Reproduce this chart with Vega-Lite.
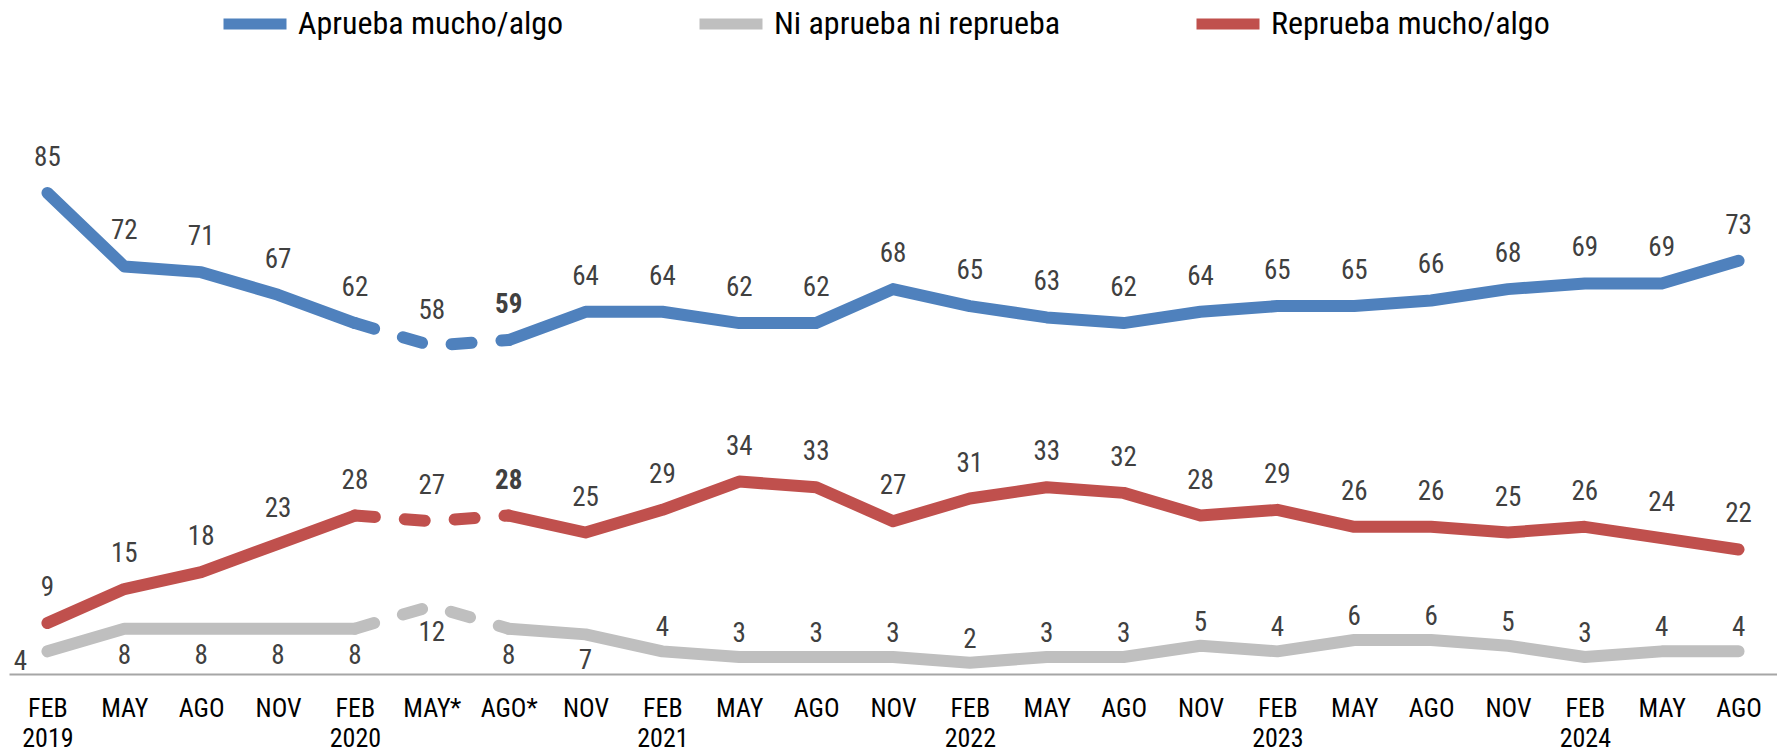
{
  "$schema": "https://vega.github.io/schema/vega-lite/v6.json",
  "autosize": {"type": "none"},
  "width": 1768,
  "height": 566,
  "padding": {"left": 9, "top": 108, "right": 0, "bottom": 77},
  "background": "white",
  "config": {
    "font": "Roboto Condensed, Liberation Sans Narrow, DejaVu Sans Condensed, Roboto, sans-serif",
    "view": {"stroke": null}
  },
  "data": {
    "values": [
      {"i": 0, "p": "FEB 2019", "Aprueba mucho/algo": 85, "Ni aprueba ni reprueba": 4, "Reprueba mucho/algo": 9},
      {"i": 1, "p": "MAY 2019", "Aprueba mucho/algo": 72, "Ni aprueba ni reprueba": 8, "Reprueba mucho/algo": 15},
      {"i": 2, "p": "AGO 2019", "Aprueba mucho/algo": 71, "Ni aprueba ni reprueba": 8, "Reprueba mucho/algo": 18},
      {"i": 3, "p": "NOV 2019", "Aprueba mucho/algo": 67, "Ni aprueba ni reprueba": 8, "Reprueba mucho/algo": 23},
      {"i": 4, "p": "FEB 2020", "Aprueba mucho/algo": 62, "Ni aprueba ni reprueba": 8, "Reprueba mucho/algo": 28},
      {"i": 5, "p": "MAY* 2020", "Aprueba mucho/algo": 58, "Ni aprueba ni reprueba": 12, "Reprueba mucho/algo": 27},
      {"i": 6, "p": "AGO* 2020", "Aprueba mucho/algo": 59, "Ni aprueba ni reprueba": 8, "Reprueba mucho/algo": 28},
      {"i": 7, "p": "NOV 2020", "Aprueba mucho/algo": 64, "Ni aprueba ni reprueba": 7, "Reprueba mucho/algo": 25},
      {"i": 8, "p": "FEB 2021", "Aprueba mucho/algo": 64, "Ni aprueba ni reprueba": 4, "Reprueba mucho/algo": 29},
      {"i": 9, "p": "MAY 2021", "Aprueba mucho/algo": 62, "Ni aprueba ni reprueba": 3, "Reprueba mucho/algo": 34},
      {"i": 10, "p": "AGO 2021", "Aprueba mucho/algo": 62, "Ni aprueba ni reprueba": 3, "Reprueba mucho/algo": 33},
      {"i": 11, "p": "NOV 2021", "Aprueba mucho/algo": 68, "Ni aprueba ni reprueba": 3, "Reprueba mucho/algo": 27},
      {"i": 12, "p": "FEB 2022", "Aprueba mucho/algo": 65, "Ni aprueba ni reprueba": 2, "Reprueba mucho/algo": 31},
      {"i": 13, "p": "MAY 2022", "Aprueba mucho/algo": 63, "Ni aprueba ni reprueba": 3, "Reprueba mucho/algo": 33},
      {"i": 14, "p": "AGO 2022", "Aprueba mucho/algo": 62, "Ni aprueba ni reprueba": 3, "Reprueba mucho/algo": 32},
      {"i": 15, "p": "NOV 2022", "Aprueba mucho/algo": 64, "Ni aprueba ni reprueba": 5, "Reprueba mucho/algo": 28},
      {"i": 16, "p": "FEB 2023", "Aprueba mucho/algo": 65, "Ni aprueba ni reprueba": 4, "Reprueba mucho/algo": 29},
      {"i": 17, "p": "MAY 2023", "Aprueba mucho/algo": 65, "Ni aprueba ni reprueba": 6, "Reprueba mucho/algo": 26},
      {"i": 18, "p": "AGO 2023", "Aprueba mucho/algo": 66, "Ni aprueba ni reprueba": 6, "Reprueba mucho/algo": 26},
      {"i": 19, "p": "NOV 2023", "Aprueba mucho/algo": 68, "Ni aprueba ni reprueba": 5, "Reprueba mucho/algo": 25},
      {"i": 20, "p": "FEB 2024", "Aprueba mucho/algo": 69, "Ni aprueba ni reprueba": 3, "Reprueba mucho/algo": 26},
      {"i": 21, "p": "MAY 2024", "Aprueba mucho/algo": 69, "Ni aprueba ni reprueba": 4, "Reprueba mucho/algo": 24},
      {"i": 22, "p": "AGO 2024", "Aprueba mucho/algo": 73, "Ni aprueba ni reprueba": 4, "Reprueba mucho/algo": 22}
    ]
  },
  "transform": [
    {"fold": ["Aprueba mucho/algo", "Ni aprueba ni reprueba", "Reprueba mucho/algo"], "as": ["serie", "v"]}
  ],
  "encoding": {
    "x": {
      "field": "p", "type": "ordinal",
      "scale": {
        "type": "point", "padding": 0.5,
        "domain": ["FEB 2019", "MAY 2019", "AGO 2019", "NOV 2019", "FEB 2020", "MAY* 2020", "AGO* 2020", "NOV 2020", "FEB 2021", "MAY 2021", "AGO 2021", "NOV 2021", "FEB 2022", "MAY 2022", "AGO 2022", "NOV 2022", "FEB 2023", "MAY 2023", "AGO 2023", "NOV 2023", "FEB 2024", "MAY 2024", "AGO 2024"]
      },
      "axis": {
        "title": null, "ticks": false, "grid": false,
        "domainColor": "#a6a6a6", "domainWidth": 2,
        "labelAngle": 0, "labelFontSize": 26, "labelColor": "#000000",
        "labelPadding": 21, "labelLineHeight": 30, "labelBaseline": "top",
        "labelExpr": "indexof(datum.label, 'FEB') == 0 ? split(datum.label, ' ') : split(datum.label, ' ')[0]"
      }
    },
    "y": {
      "field": "v", "type": "quantitative",
      "scale": {"domain": [0, 100], "nice": false, "zero": true},
      "axis": null
    }
  },
  "layer": [
    {
      "transform": [{"filter": "datum.i <= 4"}],
      "mark": {"type": "line", "strokeWidth": 12, "strokeCap": "round", "strokeJoin": "round"},
      "encoding": {
        "color": {
          "field": "serie", "type": "nominal",
          "scale": {
            "domain": ["Aprueba mucho/algo", "Ni aprueba ni reprueba", "Reprueba mucho/algo"],
            "range": ["#4F81BD", "#BFBFBF", "#C0504D"]
          },
          "legend": {
            "title": null, "orient": "none", "direction": "horizontal",
            "legendX": 209, "legendY": -121, "gridAlign": "none",
            "symbolType": "stroke", "symbolStrokeWidth": 11, "symbolSize": 3969,
            "labelFontSize": 32, "labelColor": "#000000", "labelOffset": 6,
            "columnPadding": 113, "labelLimit": 400
          }
        }
      }
    },
    {
      "transform": [{"filter": "datum.i >= 6"}],
      "mark": {"type": "line", "strokeWidth": 12, "strokeCap": "round", "strokeJoin": "round"},
      "encoding": {"color": {"field": "serie", "type": "nominal", "legend": null}}
    },
    {
      "transform": [{"filter": "datum.i >= 4 && datum.i <= 6"}],
      "mark": {"type": "line", "strokeWidth": 12, "strokeCap": "round", "strokeJoin": "round", "strokeDash": [20, 30]},
      "encoding": {"color": {"field": "serie", "type": "nominal", "legend": null}}
    },
    {
      "transform": [{"filter": "datum.serie != 'Ni aprueba ni reprueba' && datum.i != 6"}],
      "mark": {"type": "text", "fontSize": 27, "color": "#404040", "dy": -35},
      "encoding": {"text": {"field": "v", "type": "quantitative"}}
    },
    {
      "transform": [{"filter": "datum.serie != 'Ni aprueba ni reprueba' && datum.i == 6"}],
      "mark": {"type": "text", "fontSize": 27, "fontWeight": "bold", "color": "#404040", "dy": -35},
      "encoding": {"text": {"field": "v", "type": "quantitative"}}
    },
    {
      "transform": [{"filter": "datum.serie == 'Ni aprueba ni reprueba' && datum.i >= 1 && datum.i <= 7"}],
      "mark": {"type": "text", "fontSize": 27, "color": "#404040", "dy": 27},
      "encoding": {"text": {"field": "v", "type": "quantitative"}}
    },
    {
      "transform": [{"filter": "datum.serie == 'Ni aprueba ni reprueba' && datum.i == 0"}],
      "mark": {"type": "text", "fontSize": 27, "color": "#404040", "dx": -27, "dy": 11},
      "encoding": {"text": {"field": "v", "type": "quantitative"}}
    },
    {
      "transform": [{"filter": "datum.serie == 'Ni aprueba ni reprueba' && datum.i >= 8"}],
      "mark": {"type": "text", "fontSize": 27, "color": "#404040", "dy": -23},
      "encoding": {"text": {"field": "v", "type": "quantitative"}}
    }
  ]
}
